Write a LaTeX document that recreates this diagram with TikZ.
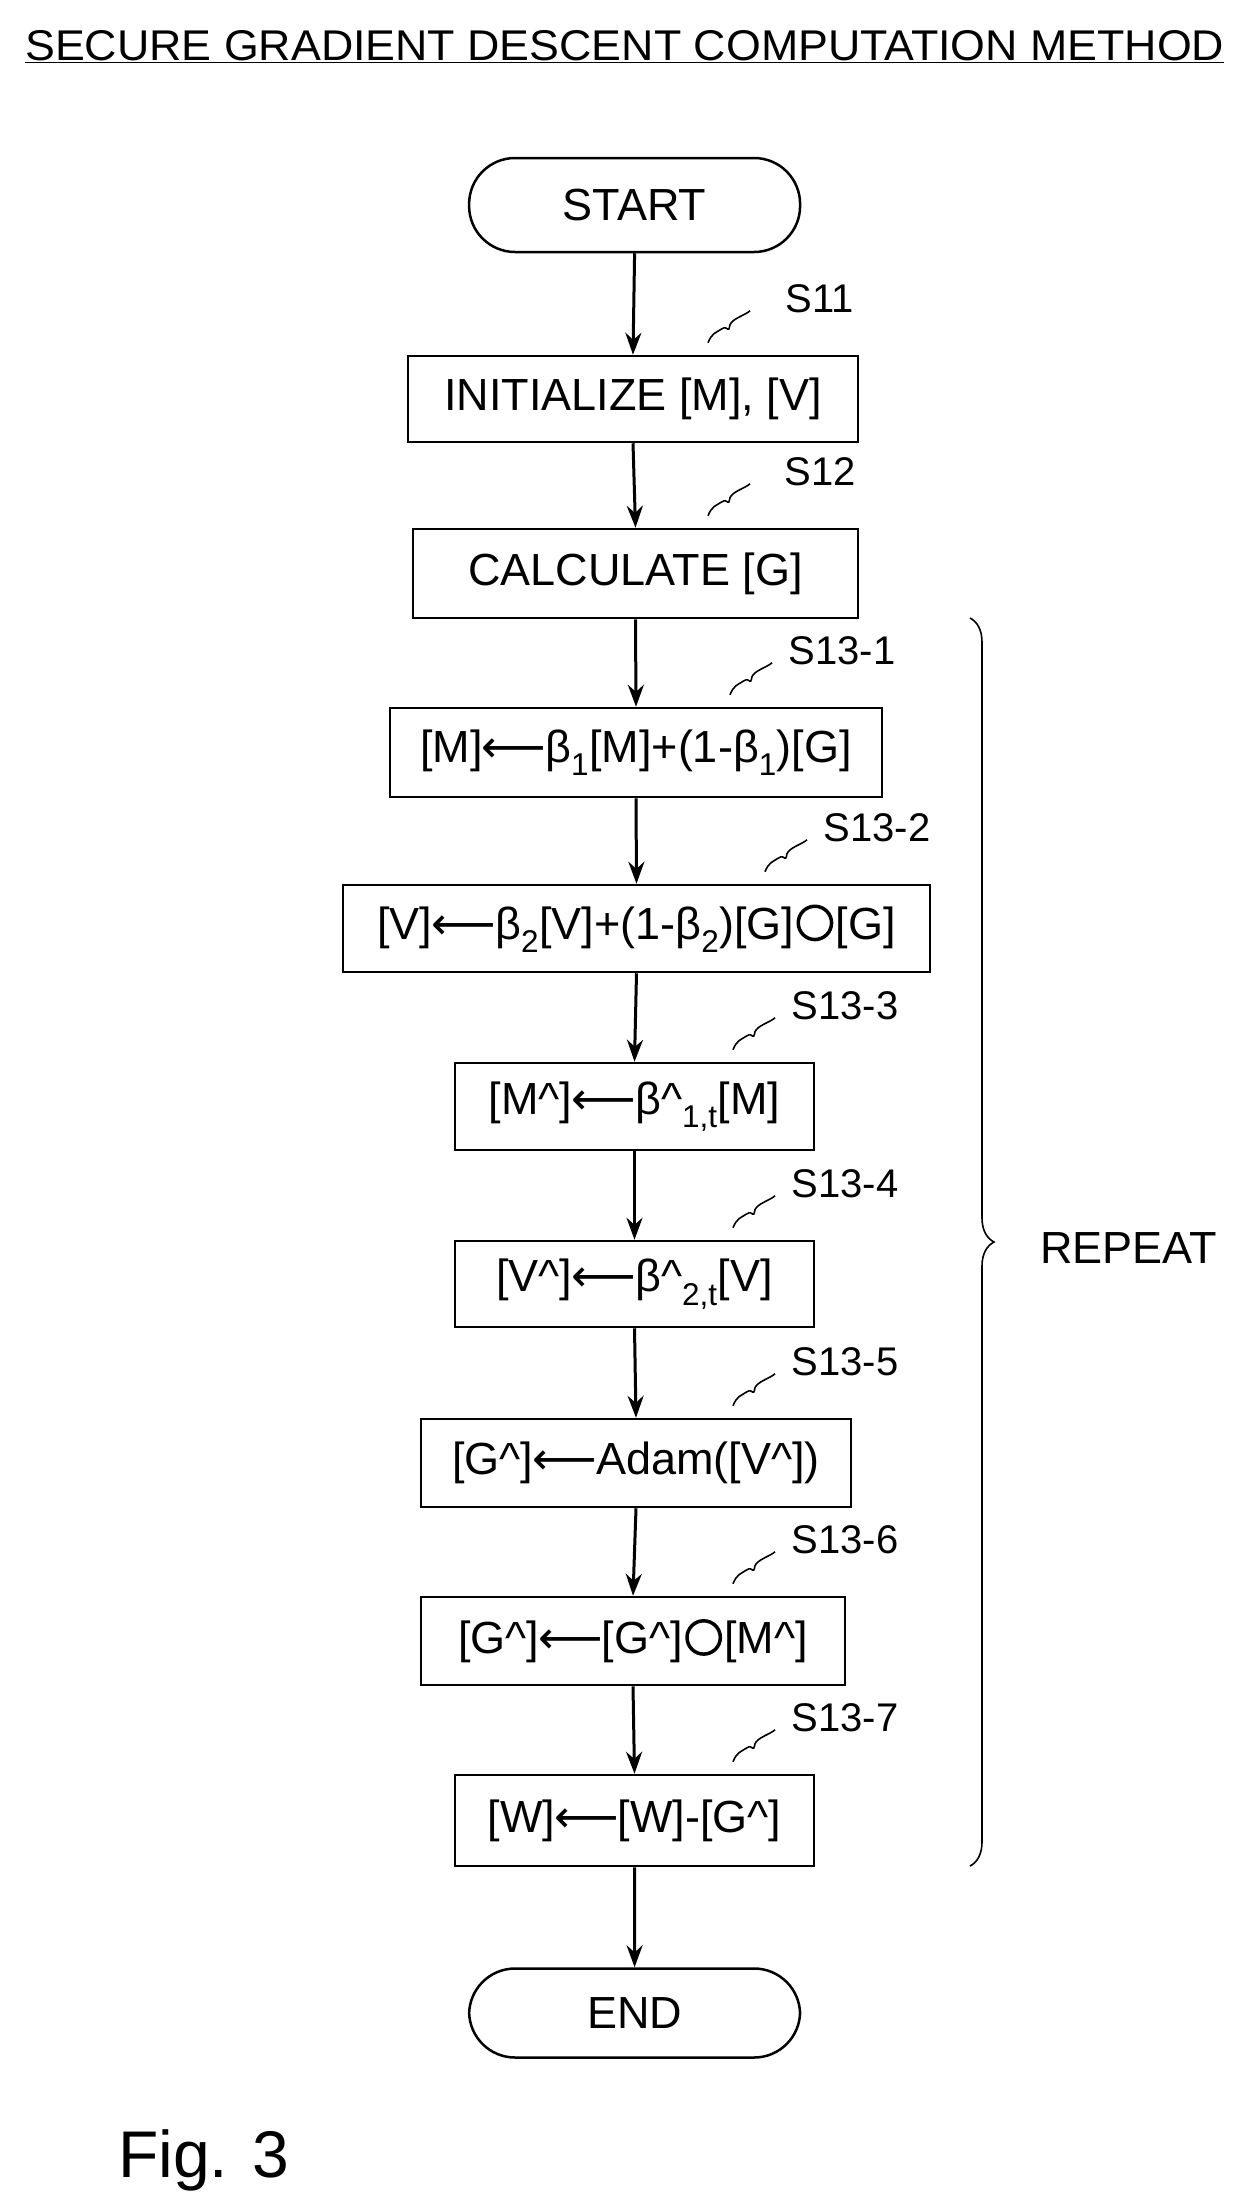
\documentclass[tikz,border=0pt]{standalone}
\usepackage{fontspec}
\usepackage{graphicx}
\setmainfont{Liberation Sans}
\newfontfamily\djf{DejaVu Sans}
\usetikzlibrary{arrows.meta,decorations.pathreplacing}
\newcommand{\la}{{\djf\kern-0.02em⟵\kern-0.02em}}
\newcommand{\sbs}[1]{\textsubscript{#1}}
\newcommand{\hatc}{\textasciicircum}
\newcommand{\opc}{\kern0.05em\tikz[baseline=-0.36em]\draw[line width=3.5pt] (0,0) circle (0.37em);\kern0.05em}
\begin{document}
\begin{tikzpicture}[x=1pt,y=-1pt,
  every node/.style={font=\fontsize{45}{54}\selectfont, inner sep=0pt},
  box/.style={draw, line width=2.5pt, rectangle},
  term/.style={draw, line width=2.5pt, rounded corners=46pt},
  arr/.style={line width=3pt, -{Stealth[length=22pt,width=16pt]}},
  sq/.style={line width=1.6pt}]
\useasboundingbox (0,0) rectangle (1255,2209);
\node[anchor=west] (title) at (25,47) {\resizebox{1199pt}{\height}{\fontsize{43}{50}\selectfont\underline{SECURE GRADIENT DESCENT COMPUTATION METHOD}}};
\def\B#1#2#3#4#5#6{% name, x1, x2, y1, y2, text
  \node[box, minimum width=#3-#2, minimum height=#5-#4] (#1) at ({(#2+#3)/2},{(#4+#5)/2}) {#6};}
\node[term, minimum width=331, minimum height=94] (start) at (634.6,205) {START};
\B{s11}{408}{858}{356}{442}{INITIALIZE [M], [V]}
\B{s12}{413}{858}{529}{618}{CALCULATE [G]}
\B{s131}{390}{882}{708}{797}{[M]\la β\sbs{1}[M]+(1-β\sbs{1})[G]}
\B{s132}{343}{930}{885}{972}{[V]\la β\sbs{2}[V]+(1-β\sbs{2})[G]\opc[G]}
\B{s133}{455}{814}{1063}{1150}{[M\hatc]\la β\hatc\sbs{1,t}[M]}
\B{s134}{455}{814}{1241}{1327}{[V\hatc]\la β\hatc\sbs{2,t}[V]}
\B{s135}{421}{851}{1419}{1507}{[G\hatc]\la Adam([V\hatc])}
\B{s136}{421}{845}{1597}{1685}{[G\hatc]\la [G\hatc]\opc[M\hatc]}
\B{s137}{455}{814}{1775}{1866}{[W]\la [W]-[G\hatc]}
\node[term, minimum width=331, minimum height=89] (end) at (634.6,2013) {END};
\foreach \a/\b in {start/s11,s11/s12,s12/s131,s131/s132,s132/s133,s133/s134,s134/s135,s135/s136,s136/s137,s137/end}
  \draw[arr] (\a.south) -- (\b.north);
\foreach \n/\lx/\t in {s11/820/S11,s12/820/S12,s131/842/S13-1,s132/877/S13-2,s133/845/S13-3,s134/845/S13-4,s135/845/S13-5,s136/845/S13-6,s137/845/S13-7}{
  \path (\n.north) ++(0,-56) coordinate (c\n);
  \node[font=\fontsize{40}{48}\selectfont] (lab\n) at (\lx, 0 |- c\n) {\t};
  \path (\n.north) coordinate (t\n);
  \draw[sq] (\lx-112, 0 |- t\n) ++(0,-12) .. controls +(4,-10) and +(-6,4) .. ++(14,-14)
     .. controls +(6,-4) and +(-2,10) .. ++(8,-4) .. controls +(2,-6) and +(-4,4) .. ++(20,-14);
}
\draw[line width=1.6pt, decorate, decoration={brace, amplitude=24pt}] (970,618) -- coordinate[midway] (bm) (970,1866);
\node[anchor=west] (rep) at (1040,1248) {REPEAT};
\node[anchor=west, font=\fontsize{66}{78}\selectfont] (fig) at (118,2160) {Fig. 3};
\end{tikzpicture}
\end{document}
